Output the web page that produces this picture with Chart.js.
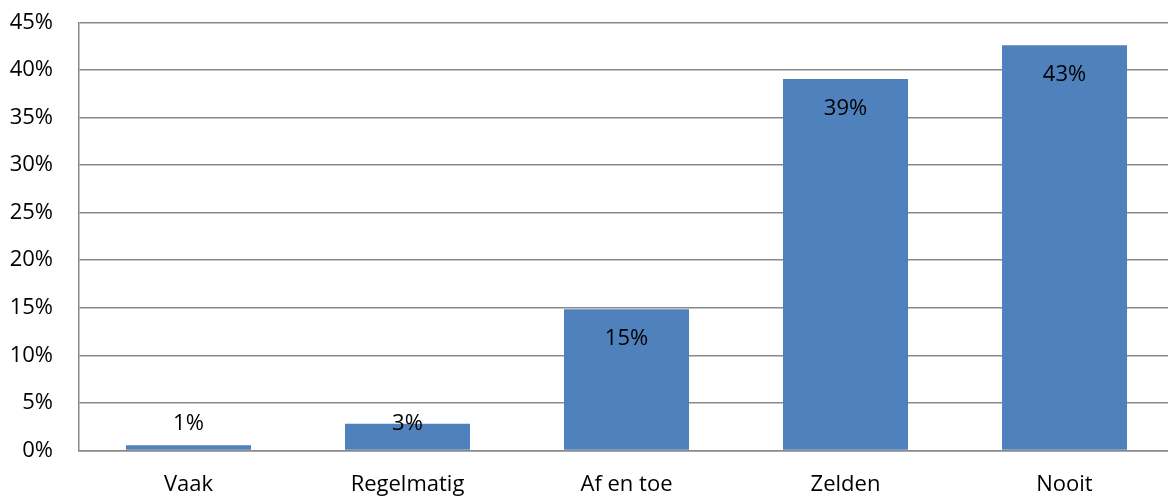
<!DOCTYPE html>
<html lang="nl">
<head>
    <meta charset="UTF-8">
    <title>Frequentie</title>
    <script src="https://cdn.jsdelivr.net/npm/chart.js"></script>
    <style>
        html, body {
            margin: 0;
            padding: 0;
            background: white;
            overflow: hidden;
        }

        .chart-wrapper {
            width: 1174px;
            height: 497px;
        }
    </style>
</head>
<body>

    <div class="chart-wrapper">
        <canvas id="barChart"></canvas>
    </div>

    <script>
        // data
        const categories = ['Vaak', 'Regelmatig', 'Af en toe', 'Zelden', 'Nooit'];
        const values = [0.55, 2.8, 14.85, 39.05, 42.6];
        const labels = ['1%', '3%', '15%', '39%', '43%'];

        const fontFamily = "'Open Sans', 'Liberation Sans', sans-serif";
        const fontSize = 22;

        // draws value labels inside the top of every bar
        const barLabels = {
            id: 'barLabels',
            afterDatasetsDraw(chart) {
                const ctx = chart.ctx;
                const meta = chart.getDatasetMeta(0);
                ctx.save();
                ctx.font = fontSize + 'px ' + fontFamily;
                ctx.fillStyle = '#000';
                ctx.textAlign = 'center';
                ctx.textBaseline = 'middle';
                meta.data.forEach((bar, i) => {
                    const y = Math.min(bar.y + 30, bar.base - 26);
                    ctx.fillText(labels[i], bar.x, y);
                });
                ctx.restore();
            }
        };

        const ctx = document.getElementById('barChart').getContext('2d');
        const barChart = new Chart(ctx, {
            type: 'bar',
            data: {
                labels: categories,
                datasets: [{
                    data: values,
                    backgroundColor: '#4F81BD',
                    borderWidth: 0,
                    barPercentage: 0.571,
                    categoryPercentage: 1
                }]
            },
            options: {
                responsive: true,
                maintainAspectRatio: false,
                animation: false,
                layout: {
                    padding: 0
                },
                plugins: {
                    legend: { display: false },
                    tooltip: { enabled: false }
                },
                scales: {
                    x: {
                        grid: { display: false },
                        border: { color: '#898989', width: 1.5 },
                        afterFit: s => { s.height = 46.5; },
                        ticks: {
                            color: '#000',
                            padding: 13,
                            font: { family: fontFamily, size: fontSize }
                        }
                    },
                    y: {
                        min: 0,
                        max: 45,
                        grid: {
                            color: '#898989',
                            lineWidth: 1.5,
                            drawTicks: false
                        },
                        border: { color: '#898989', width: 1.5 },
                        afterFit: s => {
                            s.width = 79;
                            s.paddingTop = 22.3;
                            s.paddingBottom = 0;
                        },
                        ticks: {
                            stepSize: 5,
                            color: '#000',
                            padding: 26,
                            font: { family: fontFamily, size: fontSize },
                            callback: v => v + '%'
                        }
                    }
                }
            },
            plugins: [barLabels]
        });
    </script>
</body>
</html>
